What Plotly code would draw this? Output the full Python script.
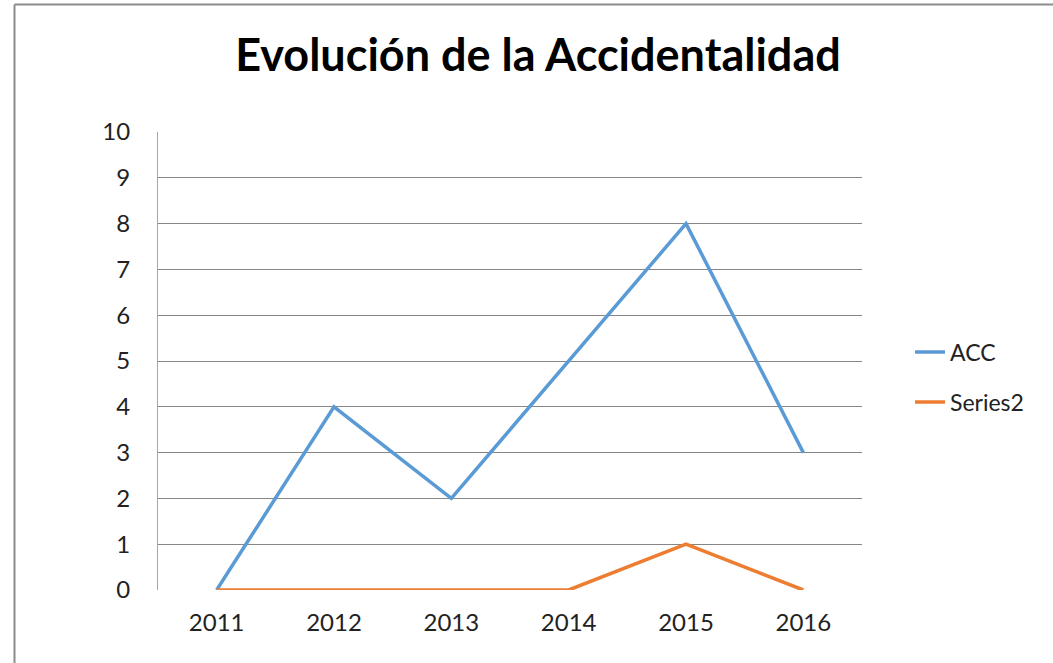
import plotly.graph_objects as go

years = ["2011", "2012", "2013", "2014", "2015", "2016"]
acc = [0, 4, 2, 5, 8, 3]
series2 = [0, 0, 0, 0, 1, 0]
y_ticks = [0, 1, 2, 3, 4, 5, 6, 7, 8, 9, 10]

W, H = 1053, 663
L, R, T, B = 158, 862, 132, 590
pw, ph = R - L, B - T

FONT = "Lato"
fig = go.Figure()
fig.add_trace(go.Scatter(x=years, y=acc, mode="lines", name="ACC", showlegend=True,
                         line=dict(color="#5B9BD5", width=3.5), legend="legend"))
fig.add_trace(go.Scatter(x=years, y=series2, mode="lines", name="Series2", showlegend=True,
                         line=dict(color="#ED7D31", width=3.5), legend="legend2"))

def px_x(p):
    return (p - L) / pw

def px_y(p):
    return (B - p) / ph

fig.update_layout(
    width=W, height=H,
    showlegend=True,
    margin=dict(l=L, r=W - R, t=T, b=H - B),
    paper_bgcolor="white", plot_bgcolor="white",
    font=dict(family=FONT, color="#222222"),
    title=dict(text="<b>Evolución de la Accidentalidad</b>", x=538 / W, xanchor="center",
               y=1 - 55 / H, yanchor="middle", font=dict(size=45, color="#000000", family=FONT)),
    xaxis=dict(type="category", range=[-0.5, 5.5], showgrid=False, zeroline=False,
               showline=False, ticks="", tickfont=dict(size=24, color="#222222"),
               ticklabelstandoff=16, fixedrange=True),
    yaxis=dict(range=[0, 10], tickvals=y_ticks, showgrid=True, gridcolor="#868686", gridwidth=1,
               zeroline=False, showline=True, linecolor="#A6A6A6", linewidth=1, ticks="",
               tickfont=dict(size=24, color="#222222"), ticklabelstandoff=22, fixedrange=True),
    legend=dict(x=px_x(910), y=px_y(352), xanchor="left", yanchor="middle",
                font=dict(size=23, color="#222222", family=FONT), bgcolor="rgba(0,0,0,0)"),
    legend2=dict(x=px_x(910), y=px_y(402), xanchor="left", yanchor="middle",
                 font=dict(size=23, color="#222222", family=FONT), bgcolor="rgba(0,0,0,0)"),
    shapes=[
        dict(type="line", xref="paper", yref="paper", x0=px_x(14.5), x1=px_x(1070),
             y0=px_y(4.5), y1=px_y(4.5), line=dict(color="#8C8C8C", width=2), layer="above"),
        dict(type="line", xref="paper", yref="paper", x0=px_x(14.5), x1=px_x(14.5),
             y0=px_y(4.5), y1=px_y(680), line=dict(color="#8C8C8C", width=2), layer="above"),
    ],
)

fig.write_html("out.html", config={"displayModeBar": False},
               post_script="document.body.style.margin='0px';document.body.style.overflow='hidden';")
